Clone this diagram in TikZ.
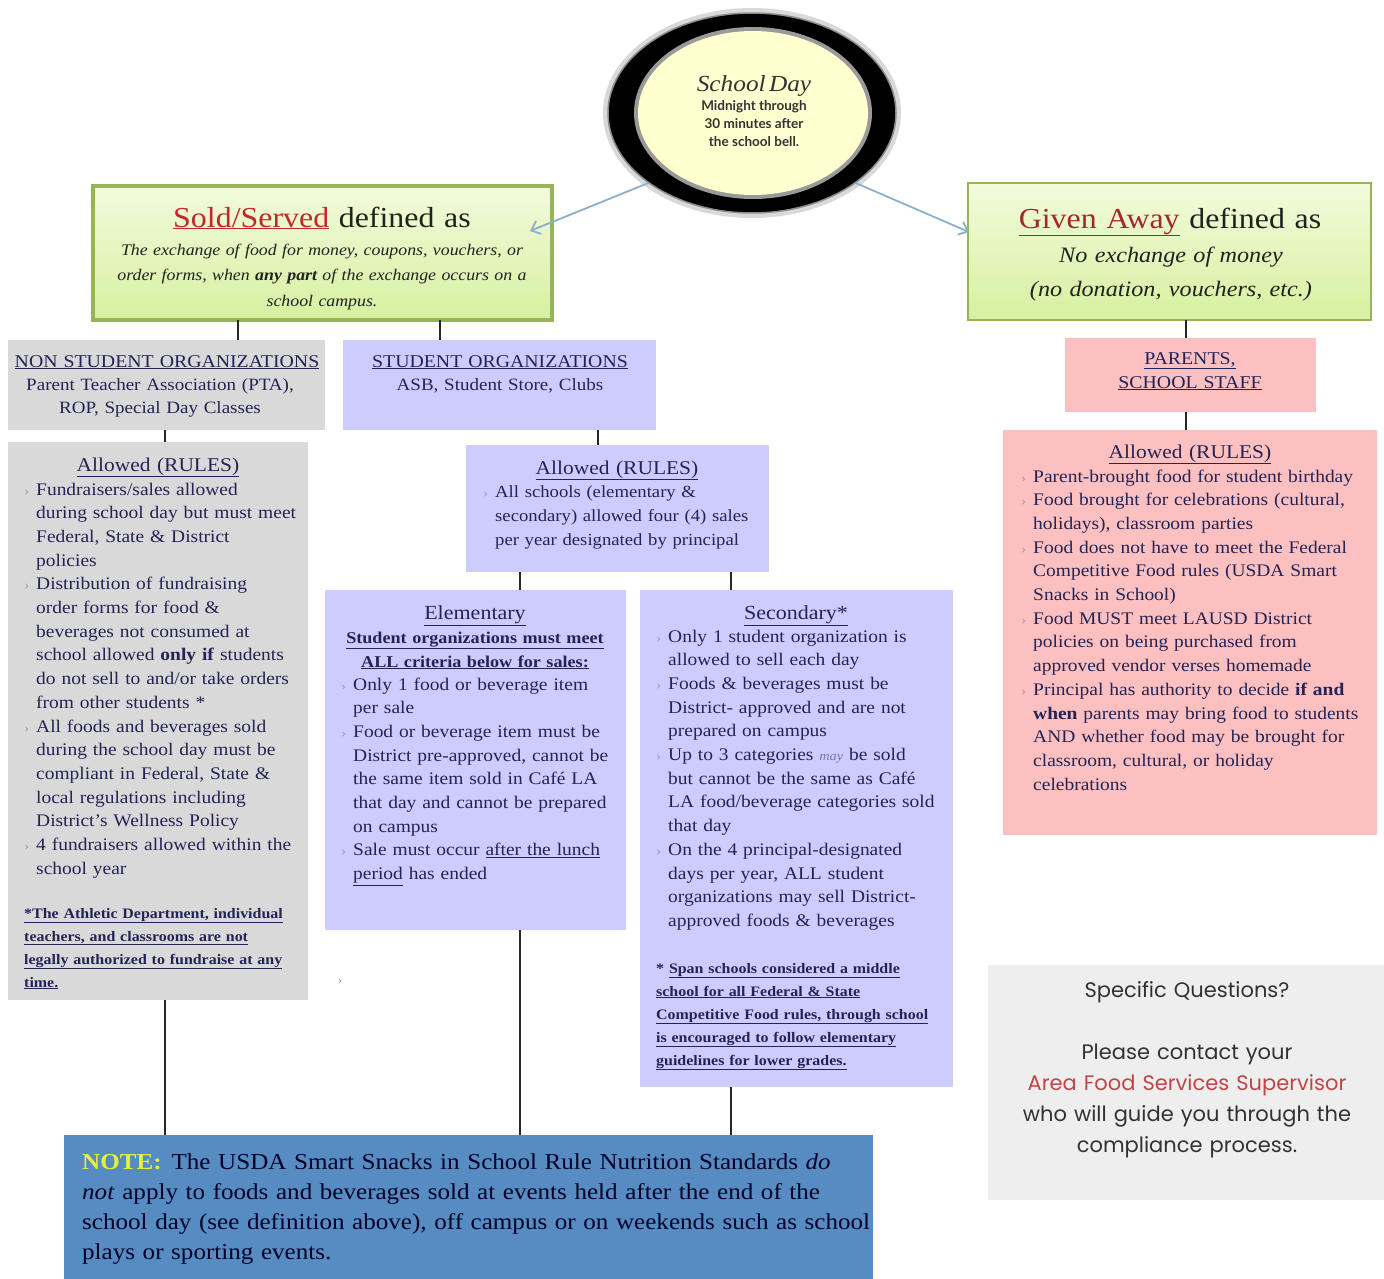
\documentclass[tikz,border=0pt]{standalone}
\usepackage{fontspec}
\setmainfont{Liberation Serif}[FakeStretch=1.1,WordSpace=1.15]
\newfontfamily\sqfont{Poppins}[WordSpace=1.35]
\newfontfamily\dayfont{Lato}
\usetikzlibrary{shapes.geometric,arrows.meta,calc}
\definecolor{txt}{RGB}{35,35,85}
\definecolor{dark}{RGB}{30,35,30}
\definecolor{redc}{RGB}{195,40,40}
\definecolor{redg}{RGB}{165,40,40}
\definecolor{gtop}{RGB}{242,251,220}
\definecolor{gbot}{RGB}{214,240,160}
\definecolor{gbord}{RGB}{150,182,85}
\definecolor{grayf}{RGB}{217,217,217}
\definecolor{lavf}{RGB}{204,204,255}
\definecolor{pinkf}{RGB}{252,192,192}
\definecolor{notef}{RGB}{86,140,194}
\definecolor{notec}{RGB}{228,240,60}
\definecolor{specf}{RGB}{238,238,238}
\definecolor{spect}{RGB}{50,50,50}
\definecolor{specr}{RGB}{192,70,70}
\definecolor{bulc}{RGB}{150,150,170}
\definecolor{arrc}{RGB}{140,175,205}
\definecolor{dayf}{RGB}{255,255,208}
\newcommand\bodyf{\fontsize{17.7}{23.7}\selectfont}
\newcommand\footf{\bfseries\fontsize{14.5}{23}\selectfont}
\newcommand\bulx{\llap{{\color{bulc}\fontsize{13}{13}\selectfont ›}\hspace{7pt}}}
\newcommand\bul{\par\noindent\bulx}
\begin{document}
\begin{tikzpicture}[x=1pt,y=-1pt,
  box/.style={anchor=north west, inner sep=0pt, outer sep=0pt},
  body/.style={anchor=base west, inner sep=0pt, align=left, text=txt},
  ctext/.style={anchor=base, inner sep=0pt, align=center, text=txt},
  conn/.style={draw=black!85, line width=2pt},
  arr/.style={draw=arrc, line width=1.8pt, -{Straight Barb[length=8pt,width=14pt]}},
  greenbox/.style={box, top color=gtop, bottom color=gbot, draw=gbord},
]
\useasboundingbox (0,0) rectangle (1384,1279);
\fill[white] (0,0) rectangle (1384,1279);

% ---------- boxes ----------
\node[greenbox, line width=4pt, minimum width=459pt, minimum height=134pt] (sold) at (93,186) {};
\node[greenbox, line width=2pt, minimum width=403pt, minimum height=137pt] (given) at (968,183) {};
\node[box, fill=grayf, minimum width=317pt, minimum height=90pt] (nonstu) at (8,340) {};
\node[box, fill=lavf, minimum width=313pt, minimum height=90pt] (stu) at (343,340) {};
\node[box, fill=grayf, minimum width=300pt, minimum height=558pt] (grayrules) at (8,442) {};
\node[box, fill=lavf, minimum width=303pt, minimum height=127pt] (sturules) at (466,445) {};
\node[box, fill=lavf, minimum width=301pt, minimum height=340pt] (elem) at (325,590) {};
\node[box, fill=lavf, minimum width=313pt, minimum height=497pt] (sec) at (640,590) {};
\node[box, fill=notef, minimum width=809pt, minimum height=144pt] (note) at (64,1135) {};
\node[box, fill=pinkf, minimum width=251pt, minimum height=74pt] (parents) at (1065,338) {};
\node[box, fill=pinkf, minimum width=374pt, minimum height=405pt] (pinkrules) at (1003,430) {};
\node[box, fill=specf, minimum width=396pt, minimum height=235pt] (spec) at (988,965) {};

% ---------- connectors ----------
\draw[conn] ($(sold.south west)+(145,0)$) -- ($(nonstu.north west)+(230,0)$);
\draw[conn] ($(sold.south west)+(347,0)$) -- ($(stu.north west)+(97,0)$);
\draw[conn] ($(nonstu.south west)+(157,0)$) -- ($(grayrules.north west)+(157,0)$);
\draw[conn] ($(stu.south west)+(255,0)$) -- ($(sturules.north west)+(132,0)$);
\draw[conn] ($(sturules.south west)+(54,0)$) -- ($(elem.north west)+(195,0)$);
\draw[conn] ($(sturules.south west)+(265,0)$) -- ($(sec.north west)+(91,0)$);
\draw[conn] ($(grayrules.south west)+(157,0)$) -- ($(note.north west)+(101,0)$);
\draw[conn] ($(elem.south west)+(195,0)$) -- ($(note.north west)+(456,0)$);
\draw[conn] ($(sec.south west)+(91,0)$) -- ($(note.north west)+(667,0)$);
\draw[conn] ($(given.south west)+(218,0)$) -- ($(parents.north west)+(121,0)$);
\draw[conn] ($(parents.south west)+(121,0)$) -- ($(pinkrules.north west)+(183,0)$);

% ---------- school day ellipse ----------
\node[ellipse, fill=black!15, minimum width=298pt, minimum height=210pt, inner sep=0pt] (dayhalo) at (752,113) {};
\node[ellipse, fill=black, draw=black!45, line width=1.5pt, minimum width=288pt, minimum height=200pt, inner sep=0pt] (day) at (752,113) {};
\node[ellipse, fill=black!40, minimum width=238pt, minimum height=172pt, inner sep=0pt] (dayring) at (753,113) {};
\node[ellipse, fill=dayf, minimum width=230pt, minimum height=164pt, inner sep=0pt] (dayin) at (753,113) {};
\node[ctext, text=black!80, text width=200pt] (daytxt) at (754,92) {{\fontsize{23}{26}\selectfont\itshape School Day\par}\vspace{1pt}{\dayfont\bfseries\fontsize{13.5}{18}\selectfont Midnight through\\30 minutes after\\the school bell.\par}};

% ---------- arrows ----------
\coordinate (a1) at (530,231);
\coordinate (a2) at (969,232);
\draw[arr] (day.214) -- (a1);
\draw[arr] (day.326) -- (a2);

% ---------- texts ----------
\node[ctext, text=dark, text width=440pt, font=\fontsize{29}{32}\selectfont] (soldt) at (322,227) {{\color{redc}\underline{Sold/Served}} defined as};
\node[ctext, text=dark, text width=455pt, font=\fontsize{16.2}{25.5}\selectfont\itshape] (soldb) at (322,255) {The exchange of food for money, coupons, vouchers, or\\order forms, when \textbf{any part} of the exchange occurs on a\\school campus.};

\node[ctext, text=dark, text width=390pt, font=\fontsize{29}{32}\selectfont] (givent) at (1170,228) {{\color{redg}\underline{Given Away}} defined as};
\node[ctext, text=dark, text width=390pt, font=\fontsize{22}{34}\selectfont\itshape] (givenb) at (1171,262) {No exchange of money\\(no donation, vouchers, etc.)};

\node[ctext, text width=315pt, font=\fontsize{18}{23}\selectfont] (nonstut) at (167,367) {\underline{NON STUDENT ORGANIZATIONS}};
\node[ctext, text width=315pt, font=\fontsize{17.3}{23}\selectfont] (nonstub) at (160,390) {Parent Teacher Association (PTA),\\ROP, Special Day Classes};

\node[ctext, text width=310pt, font=\fontsize{18}{23}\selectfont] (stut) at (500,367) {\underline{STUDENT ORGANIZATIONS}};
\node[ctext, text width=310pt, font=\fontsize{17.3}{23}\selectfont] (stub) at (500,390) {ASB, Student Store, Clubs};

\node[ctext, text width=240pt, font=\fontsize{18}{24}\selectfont] (parentst) at (1190,364) {\underline{PARENTS,}\\\underline{SCHOOL STAFF}};

% gray rules
\node[ctext, text width=290pt, font=\fontsize{19.5}{24}\selectfont] (grayt) at (158,471) {\underline{Allowed (RULES)}};
\node[body, text width=272pt, font=\bodyf] (grayb) at (36,495) {%
\bulx Fundraisers/sales allowed\\during school day but must meet\\Federal, State \& District\\policies
\bul Distribution of fundraising\\order forms for food \&\\beverages not consumed at\\school allowed \textbf{only if} students\\do not sell to and/or take orders\\from other students *
\bul All foods and beverages sold\\during the school day must be\\compliant in Federal, State \&\\local regulations including\\District's Wellness Policy
\bul 4 fundraisers allowed within the\\school year};
\node[body, text width=284pt, font=\footf] (grayfn) at (24,918) {\underline{*The Athletic Department, individual}\\\underline{teachers, and classrooms are not}\\\underline{legally authorized to fundraise at any}\\\underline{time.}};
\node[inner sep=0pt, text=bulc, font=\fontsize{13}{13}\selectfont] (stray) at (340,982) {›};

% student rules
\node[ctext, text width=290pt, font=\fontsize{19.5}{24}\selectfont] (stuRt) at (617,474) {\underline{Allowed (RULES)}};
\node[body, text width=272pt, font=\fontsize{17}{24}\selectfont] (stuRb) at (495,497) {%
\bulx All schools (elementary \&\\secondary) allowed four (4) sales\\per year designated by principal};

% elementary
\node[ctext, text width=290pt, font=\fontsize{20}{24}\selectfont] (elemt) at (475,619) {\underline{Elementary}};
\node[ctext, text width=295pt, font=\bfseries\fontsize{16.5}{24}\selectfont] (elems) at (475,643) {\underline{Student organizations must meet}\\\underline{ALL criteria below for sales:}};
\node[body, text width=270pt, font=\bodyf] (elemb) at (353,690) {%
\bulx Only 1 food or beverage item\\per sale
\bul Food or beverage item must be\\District pre-approved, cannot be\\the same item sold in Café LA\\that day and cannot be prepared\\on campus
\bul Sale must occur \underline{after the lunch}\\\underline{period} has ended};

% secondary
\node[ctext, text width=300pt, font=\fontsize{20}{24}\selectfont] (sect) at (796,619) {\underline{Secondary*}};
\node[body, text width=280pt, font=\bodyf] (secb) at (668,642) {%
\bulx Only 1 student organization is\\allowed to sell each day
\bul Foods \& beverages must be\\District- approved and are not\\prepared on campus
\bul Up to 3 categories {\itshape\color{txt!60}\fontsize{13}{13}\selectfont may} be sold\\but cannot be the same as Café\\LA food/beverage categories sold\\that day
\bul On the 4 principal-designated\\days per year, ALL student\\organizations may sell District-\\approved foods \& beverages};
\node[body, text width=295pt, font=\footf] (secfn) at (656,973) {* \underline{Span schools considered a middle}\\\underline{school for all Federal \& State}\\\underline{Competitive Food rules, through school}\\\underline{is encouraged to follow elementary}\\\underline{guidelines for lower grades.}};

% pink rules
\node[ctext, text width=340pt, font=\fontsize{19.5}{24}\selectfont] (pinkt) at (1190,458) {\underline{Allowed (RULES)}};
\node[body, text width=340pt, font=\bodyf] (pinkb) at (1033,482) {%
\bulx Parent-brought food for student birthday
\bul Food brought for celebrations (cultural,\\holidays), classroom parties
\bul Food does not have to meet the Federal\\Competitive Food rules (USDA Smart\\Snacks in School)
\bul Food MUST meet LAUSD District\\policies on being purchased from\\approved vendor verses homemade
\bul Principal has authority to decide \textbf{if and}\\\textbf{when} parents may bring food to students\\AND whether food may be brought for\\classroom, cultural, or holiday\\celebrations};

% note
\node[body, text=black!85!blue, text width=795pt, font=\fontsize{22.8}{30}\selectfont] (noteb) at (82,1169) {{\color{notec}\textbf{NOTE:}}\hspace{10pt}The USDA Smart Snacks in School Rule Nutrition Standards \textit{do}\\\textit{not} apply to foods and beverages sold at events held after the end of the\\school day (see definition above), off campus or on weekends such as school\\plays or sporting events.};

% specific questions
\node[ctext, text=spect, text width=390pt, font=\sqfont\fontsize{21}{31}\selectfont] (spect) at (1187,997) {Specific Questions?\\[31pt]Please contact your\\{\color{specr}Area Food Services Supervisor}\\who will guide you through the\\compliance process.};
\end{tikzpicture}
\end{document}
